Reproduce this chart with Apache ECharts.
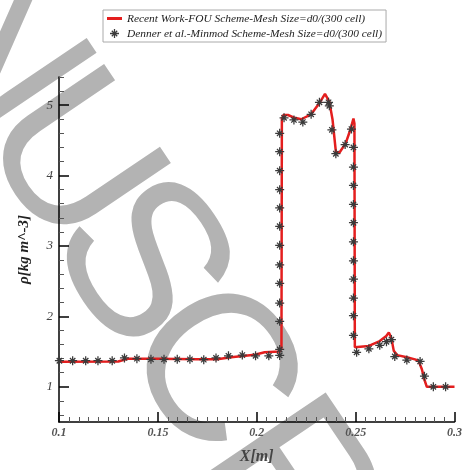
<!DOCTYPE html>
<html lang="en">
<head>
    <meta charset="UTF-8">
    <title>Density profile</title>
    <script src="https://cdn.jsdelivr.net/npm/echarts@6/dist/echarts.min.js"></script>
</head>
<body style="margin:0">
<div id="main" style="width: 465px;height:470px;"></div>
<script>
    // recent work (red line)
    let recentX = [0.100, 0.130, 0.135, 0.150, 0.170, 0.180, 0.187, 0.199, 0.204, 0.2115, 0.2125,
        0.2127, 0.2135, 0.2158, 0.2191, 0.2225, 0.2275, 0.2317, 0.2345, 0.2355, 0.2367, 0.2383,
        0.2400, 0.2417, 0.2450, 0.2472, 0.2489, 0.2494, 0.2496, 0.2500, 0.2567, 0.2622, 0.2655,
        0.2668, 0.2680, 0.2693, 0.2710, 0.2759, 0.2800, 0.2818, 0.2835, 0.2848, 0.2860, 0.3000];
    let recentY = [1.355, 1.36, 1.40, 1.40, 1.39, 1.39, 1.42, 1.455, 1.49, 1.50, 1.55,
        4.80, 4.86, 4.86, 4.82, 4.80, 4.87, 5.03, 5.16, 5.16, 5.05, 4.80,
        4.34, 4.32, 4.46, 4.64, 4.81, 4.74, 1.56, 1.54, 1.58, 1.65, 1.72,
        1.77, 1.70, 1.51, 1.45, 1.42, 1.39, 1.37, 1.25, 1.10, 1.00, 1.00];

    // Denner et al. (asterisks)
    let dennerX = [0.1002, 0.1069, 0.1135, 0.1197, 0.1269, 0.1331, 0.1394, 0.1465, 0.1531, 0.1598,
        0.1662, 0.1732, 0.1794, 0.1857, 0.1927, 0.1994, 0.2061,
        0.2116, 0.2116, 0.2116, 0.2116, 0.2116, 0.2116, 0.2116, 0.2116, 0.2116, 0.2116, 0.2116, 0.2116, 0.2116,
        0.2138, 0.2188, 0.2233, 0.2275, 0.2317, 0.2363, 0.2367, 0.2380, 0.2400, 0.2447, 0.2479,
        0.2489, 0.2489, 0.2489, 0.2489, 0.2489, 0.2489, 0.2489, 0.2489, 0.2489, 0.2489, 0.2489,
        0.2505, 0.2567, 0.2622, 0.2656, 0.2681, 0.2698, 0.2759, 0.2826, 0.2848, 0.2893, 0.2955];
    let dennerY = [1.37, 1.37, 1.37, 1.37, 1.37, 1.41, 1.40, 1.39, 1.39, 1.39,
        1.39, 1.385, 1.41, 1.44, 1.45, 1.44, 1.44,
        1.445, 1.53, 1.93, 2.19, 2.47, 2.73, 3.01, 3.28, 3.54, 3.80, 4.07, 4.34, 4.60,
        4.82, 4.79, 4.76, 4.87, 5.04, 5.04, 4.99, 4.65, 4.31, 4.44, 4.66,
        4.40, 4.12, 3.86, 3.59, 3.33, 3.06, 2.79, 2.53, 2.26, 2.01, 1.73,
        1.49, 1.54, 1.59, 1.64, 1.67, 1.43, 1.38, 1.36, 1.15, 1.00, 1.00];

    let xTicks = [0.1, 0.15, 0.2, 0.25, 0.3];
    let yTicks = [1, 2, 3, 4, 5];
    let yMinorTicks = [0.6, 0.8, 1.2, 1.4, 1.6, 1.8, 2.2, 2.4, 2.6, 2.8, 3.2, 3.4, 3.6, 3.8,
        4.2, 4.4, 4.6, 4.8, 5.2, 5.4];

    let names = ['Recent Work-FOU Scheme-Mesh Size=d0/(300 cell)',
        'Denner et al.-Minmod Scheme-Mesh Size=d0/(300 cell)'];

    // background watermark letters, placed along a tilted baseline
    let markLetters = ['N', 'U', 'S', 'C', 'R'];
    let markOffsets = [39, 171, 296, 424, 566];
    let markSizes = [210, 210, 222, 210, 210];

    let star = 'path://M4.3,0h1.4v10h-1.4z M0,4.3h10v1.4h-10z M1.5,2.5L2.5,1.5L8.5,7.5L7.5,8.5z M7.5,1.5L8.5,2.5L2.5,8.5L1.5,7.5z';

    let chart = echarts.init(document.getElementById('main'));
    let serif = 'Liberation Serif';

    let ang = 56 * Math.PI / 180;
    let markGraphics = markLetters.map(function (ch, i) {
        let s = markOffsets[i];
        let h = -36;
        return {
            type: 'text',
            z: -10,
            silent: true,
            x: s * Math.cos(ang) + h * Math.sin(ang),
            y: s * Math.sin(ang) - h * Math.cos(ang),
            rotation: -ang,
            style: {
                text: ch,
                fontSize: markSizes[i],
                fontFamily: 'Liberation Sans',
                fill: '#b3b3b3',
                stroke: '#fff',
                lineWidth: 5,
                align: 'center',
                verticalAlign: 'middle'
            }
        };
    });

    let option = {
        animation: false,
        graphic: markGraphics,
        legend: {
            left: 103,
            top: 10,
            orient: 'vertical',
            padding: [3, 4, 3, 4],
            itemGap: 4,
            itemWidth: 15,
            itemHeight: 9,
            backgroundColor: '#fff',
            borderColor: '#aaa',
            borderWidth: 1,
            borderRadius: 0,
            textStyle: {fontFamily: serif, fontStyle: 'italic', fontSize: 11.4, color: '#222'},
            data: [{name: names[0], icon: 'path://M0,0h50v10h-50z'}, names[1]]
        },
        grid: {left: 59, right: 7, top: 77, bottom: 34},
        xAxis: {
            type: 'value',
            min: 0.1,
            max: 0.3,
            interval: 0.05,
            name: 'X[m]',
            nameLocation: 'middle',
            nameGap: 27,
            nameTextStyle: {fontFamily: serif, fontStyle: 'italic', fontWeight: 'bold', fontSize: 16, color: '#444'},
            axisLine: {lineStyle: {color: '#000', width: 1.5}},
            axisTick: {inside: true, length: 10, lineStyle: {color: '#000', width: 1.5}},
            minorTick: {show: true, splitNumber: 10, length: 5, lineStyle: {color: '#555', width: 1}},
            splitLine: {show: false},
            axisLabel: {
                margin: 5,
                fontFamily: serif, fontStyle: 'italic', fontWeight: 'bold', fontSize: 12, color: '#555',
                customValues: xTicks
            }
        },
        yAxis: [{
            type: 'value',
            min: 0.5,
            max: 5.4,
            name: 'ρ[kg m^-3]',
            nameLocation: 'middle',
            nameGap: 27,
            nameRotate: 90,
            nameTextStyle: {fontFamily: serif, fontStyle: 'italic', fontWeight: 'bold', fontSize: 15, color: '#222'},
            axisLine: {show: true, lineStyle: {color: '#000', width: 1.5}},
            axisTick: {show: true, inside: true, length: 10, lineStyle: {color: '#000', width: 1.5}, customValues: yTicks},
            splitLine: {show: false},
            axisLabel: {
                margin: 6,
                fontFamily: serif, fontStyle: 'italic', fontSize: 13, color: '#444',
                customValues: yTicks
            }
        }, {
            type: 'value',
            position: 'left',
            min: 0.5,
            max: 5.4,
            axisLine: {show: false},
            axisTick: {show: true, inside: true, length: 5, lineStyle: {color: '#555', width: 1}, customValues: yMinorTicks},
            splitLine: {show: false},
            axisLabel: {show: false}
        }],
        series: [
            {
                name: names[0],
                type: 'line',
                symbol: 'none',
                z: 3,
                lineStyle: {color: '#e41e1e', width: 2.5},
                itemStyle: {color: '#e41e1e'},
                data: recentX.map((x, i) => [x, recentY[i]])
            },
            {
                name: names[1],
                type: 'scatter',
                symbol: star,
                symbolSize: 9,
                symbolKeepAspect: true,
                z: 4,
                itemStyle: {color: '#3a3a3a', opacity: 1},
                data: dennerX.map((x, i) => [x, dennerY[i]])
            }
        ]
    };
    chart.setOption(option);
</script>
</body>
</html>
